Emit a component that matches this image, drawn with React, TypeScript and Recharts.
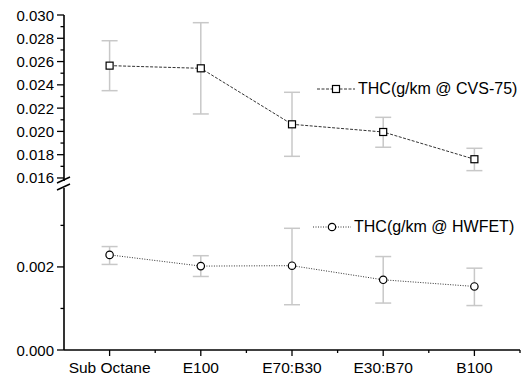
import React from "react";
import { LineChart, Line, XAxis, YAxis, ErrorBar, Legend } from "recharts";

// categories on the x axis
const categories = ["Sub Octane", "E100", "E70:B30", "E30:B70", "B100"];

// THC (g/km @ CVS-75) mean, upper and lower error bounds
const cvsValues = [0.02565, 0.02542, 0.02061, 0.01995, 0.01761];
const cvsHigh = [0.02779, 0.02934, 0.02336, 0.02121, 0.01855];
const cvsLow = [0.0235, 0.0215, 0.01786, 0.01864, 0.01663];

// THC (g/km @ HWFET)
const hwfetValues = [0.00229, 0.00202, 0.00203, 0.00169, 0.00153];
const hwfetHigh = [0.00249, 0.00227, 0.00293, 0.00225, 0.00197];
const hwfetLow = [0.00206, 0.00177, 0.00109, 0.00113, 0.00107];

// axis ticks (upper / lower panel of the broken axis)
const upperTicks = [
  0.016, 0.017, 0.018, 0.019, 0.02, 0.021, 0.022, 0.023, 0.024, 0.025, 0.026,
  0.027, 0.028, 0.029, 0.03,
];
const lowerTicks = [0, 0.001, 0.002, 0.003];
const xTicks = [0.5, 1, 1.5, 2, 2.5, 3, 3.5, 4, 4.5, 5, 5.5];

const FONT = "Arial, 'Liberation Sans', sans-serif";

const data = categories.map((name, i) => ({
  idx: i + 1,
  name,
  cvs: cvsValues[i],
  cvsErr: [cvsValues[i] - cvsLow[i], cvsHigh[i] - cvsValues[i]],
  hwfet: hwfetValues[i],
  hwfetErr: [hwfetValues[i] - hwfetLow[i], hwfetHigh[i] - hwfetValues[i]],
}));

// major tick = labelled every 0.002
const isMajorY = (v: number) => Math.round(v * 1000) % 2 === 0;

function YTick({ x, y, payload }: any) {
  const major = isMajorY(payload.value);
  return (
    <g>
      <line x1={x} x2={x - (major ? 7 : 3.5)} y1={y} y2={y} stroke="#000" strokeWidth={1.3} />
      {major && (
        <text x={x - 10} y={y} dy={5.5} textAnchor="end" fontSize={15} fontFamily={FONT} fill="#000">
          {payload.value.toFixed(3)}
        </text>
      )}
    </g>
  );
}

function XTick({ x, y, payload }: any) {
  const major = Number.isInteger(payload.value);
  if (payload.value === 0.5) return null;
  return (
    <g>
      <line x1={x} x2={x} y1={y} y2={y + (major ? 6 : 3)} stroke="#000" strokeWidth={1.3} />
      {major && (
        <text x={x} y={y + 23} textAnchor="middle" fontSize={15.5} fontFamily={FONT} fill="#000">
          {categories[payload.value - 1]}
        </text>
      )}
    </g>
  );
}

function SquareDot({ cx, cy, index }: any) {
  return <rect key={index} x={cx - 3.5} y={cy - 3.5} width={7} height={7} fill="#fff" stroke="#000" strokeWidth={1.2} />;
}

function CircleDot({ cx, cy, index }: any) {
  return <circle key={index} cx={cx} cy={cy} r={3.7} fill="#fff" stroke="#000" strokeWidth={1.2} />;
}

function LegendItem({ label, dash, square }: { label: string; dash: string; square: boolean }) {
  return (
    <div style={{ display: "flex", alignItems: "center", fontFamily: FONT, fontSize: 16, color: "#000", whiteSpace: "nowrap" }}>
      <svg width={40} height={12}>
        <line x1={0} x2={38} y1={6} y2={6} stroke="#333" strokeWidth={1} strokeDasharray={dash} />
        {square ? (
          <rect x={15.5} y={2.5} width={7} height={7} fill="#fff" stroke="#000" strokeWidth={1.2} />
        ) : (
          <circle cx={19} cy={6} r={3.7} fill="#fff" stroke="#000" strokeWidth={1.2} />
        )}
      </svg>
      <span style={{ marginLeft: 1 }}>{label}</span>
    </div>
  );
}

export default function App() {
  return (
    <div style={{ position: "absolute", left: 0, top: 0, width: 526, height: 378, background: "#fff" }}>
      {/* upper panel: CVS-75 */}
      <div style={{ position: "absolute", left: 0, top: 0 }}>
        <LineChart width={526} height={192} data={data} margin={{ top: 15, right: 6, bottom: 11, left: 0 }}>
          <XAxis dataKey="idx" type="number" domain={[0.5, 5.5]} hide />
          <YAxis
            domain={[0.01574, 0.03]}
            ticks={upperTicks}
            interval={0}
            width={64}
            tickSize={0}
            tickMargin={0}
            tickLine={false}
            tick={<YTick />}
            axisLine={{ stroke: "#000", strokeWidth: 1.6 }}
            allowDataOverflow
          />
          <Legend
            layout="vertical"
            align="center"
            verticalAlign="middle"
            wrapperStyle={{ position: "absolute", left: 317, top: 80, width: "auto" }}
            content={() => <LegendItem label="THC(g/km @ CVS-75)" dash="3 1.5" square />}
          />
          <Line
            dataKey="cvs"
            name="THC(g/km @ CVS-75)"
            stroke="#333"
            strokeWidth={1}
            strokeDasharray="3 1.5"
            dot={<SquareDot />}
            activeDot={false}
            isAnimationActive={false}
          >
            <ErrorBar dataKey="cvsErr" direction="y" stroke="#c8c8c8" strokeWidth={1.5} width={8} />
          </Line>
        </LineChart>
      </div>

      {/* lower panel: HWFET */}
      <div style={{ position: "absolute", left: 0, top: 186 }}>
        <LineChart width={526} height={192} data={data} margin={{ top: 2, right: 6, bottom: 0, left: 0 }}>
          <XAxis
            dataKey="idx"
            type="number"
            domain={[0.5, 5.5]}
            ticks={xTicks}
            interval={0}
            height={28}
            tickSize={0}
            tickMargin={0}
            tickLine={false}
            tick={<XTick />}
            axisLine={{ stroke: "#000", strokeWidth: 1.6 }}
          />
          <YAxis
            domain={[0, 0.0039]}
            ticks={lowerTicks}
            interval={0}
            width={64}
            tickSize={0}
            tickMargin={0}
            tickLine={false}
            tick={<YTick />}
            axisLine={{ stroke: "#000", strokeWidth: 1.6 }}
            allowDataOverflow
          />
          <Legend
            layout="vertical"
            align="center"
            verticalAlign="middle"
            wrapperStyle={{ position: "absolute", left: 313, top: 32, width: "auto" }}
            content={() => <LegendItem label="THC(g/km @ HWFET)" dash="1 1.5" square={false} />}
          />
          <Line
            dataKey="hwfet"
            name="THC(g/km @ HWFET)"
            stroke="#333"
            strokeWidth={1}
            strokeDasharray="1 1.5"
            dot={<CircleDot />}
            activeDot={false}
            isAnimationActive={false}
          >
            <ErrorBar dataKey="hwfetErr" direction="y" stroke="#c8c8c8" strokeWidth={1.5} width={8} />
          </Line>
        </LineChart>
      </div>

      {/* axis break marks */}
      <svg width={526} height={378} style={{ position: "absolute", left: 0, top: 0, pointerEvents: "none" }}>
        <rect x={60} y={182} width={8} height={5} fill="#fff" />
        <line x1={57} y1={183} x2={70} y2={177} stroke="#000" strokeWidth={1.5} />
        <line x1={57} y1={190} x2={70} y2={184} stroke="#000" strokeWidth={1.5} />
      </svg>
    </div>
  );
}
